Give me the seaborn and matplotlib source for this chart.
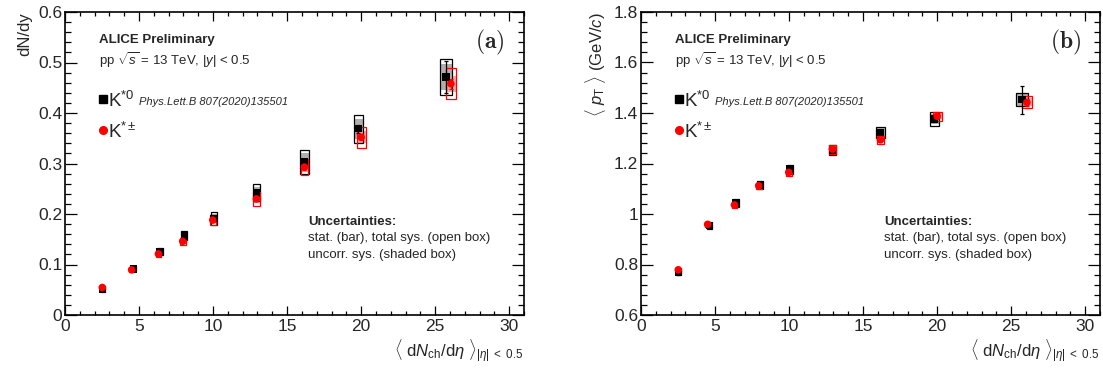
import numpy as np
import pandas as pd
import seaborn as sns
import matplotlib
matplotlib.use("Agg")
import matplotlib.pyplot as plt
from matplotlib.patches import Rectangle
from matplotlib.ticker import MultipleLocator
from matplotlib.lines import Line2D

# ---------------- data ----------------
# multiplicity classes, <dNch/deta> at |eta| < 0.5
mult_k0 = [2.52, 4.62, 6.42, 8.06, 10.07, 12.93, 16.17, 19.82, 25.74]
mult_kch = [2.52, 4.50, 6.31, 7.95, 9.98, 12.93, 16.17, 20.00, 26.06]
# half-width of the multiplicity uncertainty
mult_err_k0 = [0.15, 0.17, 0.18, 0.20, 0.20, 0.22, 0.28, 0.33, 0.40]
mult_err_kch = [0.15, 0.17, 0.18, 0.20, 0.20, 0.22, 0.26, 0.30, 0.36]

# dN/dy
dndy_k0 = [0.0505, 0.0915, 0.125, 0.157, 0.191, 0.242, 0.303, 0.369, 0.471]
dndy_k0_stat = [0.001, 0.002, 0.002, 0.003, 0.003, 0.004, 0.006, 0.008, 0.031]
dndy_k0_sys = [0.004, 0.005, 0.007, 0.009, 0.012, 0.017, 0.024, 0.028, 0.036]
dndy_k0_unc = [0.003, 0.004, 0.005, 0.007, 0.009, 0.012, 0.017, 0.020, 0.026]

dndy_kch = [0.0545, 0.0895, 0.121, 0.146, 0.188, 0.230, 0.293, 0.352, 0.458]
dndy_kch_stat = [0.001, 0.002, 0.002, 0.003, 0.003, 0.004, 0.005, 0.006, 0.010]
dndy_kch_sys = [0.003, 0.004, 0.006, 0.007, 0.010, 0.014, 0.015, 0.021, 0.031]
dndy_kch_unc = [0.002, 0.003, 0.004, 0.005, 0.006, 0.008, 0.010, 0.012, 0.016]

# <pT> (GeV/c)
mpt_k0 = [0.769, 0.954, 1.044, 1.115, 1.178, 1.252, 1.323, 1.376, 1.453]
mpt_k0_stat = [0.010, 0.010, 0.010, 0.010, 0.010, 0.010, 0.010, 0.012, 0.055]
mpt_k0_sys = [0.010, 0.014, 0.015, 0.016, 0.018, 0.020, 0.022, 0.026, 0.026]
mpt_k0_unc = [0.008, 0.010, 0.011, 0.012, 0.013, 0.015, 0.016, 0.020, 0.024]

mpt_kch = [0.779, 0.959, 1.036, 1.112, 1.165, 1.257, 1.294, 1.387, 1.442]
mpt_kch_stat = [0.004, 0.005, 0.005, 0.006, 0.006, 0.007, 0.008, 0.010, 0.015]
mpt_kch_sys = [0.008, 0.010, 0.011, 0.012, 0.014, 0.018, 0.015, 0.018, 0.024]
mpt_kch_unc = [0.005, 0.006, 0.007, 0.008, 0.009, 0.011, 0.010, 0.012, 0.016]

species = ["K*0", "K*±"]
x_ticks = [0, 5, 10, 15, 20, 25, 30]

# ---------------- style ----------------
sns.set_theme(style="ticks")
plt.rcParams["font.family"] = ["Liberation Sans", "DejaVu Sans"]
plt.rcParams["mathtext.fontset"] = "custom"
plt.rcParams["mathtext.rm"] = "Liberation Sans"
plt.rcParams["mathtext.it"] = "Liberation Sans:italic"
plt.rcParams["mathtext.bf"] = "Liberation Sans:bold"

fig = plt.figure(figsize=(11.03, 3.72), dpi=100)
ax_a = fig.add_axes([65 / 1103, 57 / 372, 459 / 1103, 303 / 372])
ax_b = fig.add_axes([641 / 1103, 57 / 372, 459 / 1103, 303 / 372])

colors = {"K*0": "black", "K*±": "red"}
shade = {"K*0": "#a6a6a6", "K*±": "#ff9c9c"}
markers = {"K*0": "s", "K*±": "o"}


def draw_series(ax, x, xerr, y, stat, sys_tot, sys_unc, name):
    col = colors[name]
    for xi, wi, yi, st, su in zip(x, xerr, y, sys_tot, sys_unc):
        ax.add_patch(Rectangle((xi - wi, yi - su), 2 * wi, 2 * su,
                               facecolor=shade[name], edgecolor="none",
                               zorder=2, alpha=0.9))
        ax.add_patch(Rectangle((xi - wi, yi - st), 2 * wi, 2 * st,
                               facecolor="none", edgecolor=col,
                               linewidth=0.9, zorder=3))
    ax.errorbar(x, y, yerr=stat, fmt="none", ecolor=col, elinewidth=0.9,
                capsize=1.5, capthick=0.9, zorder=4)


def build_panel(ax, y_k0, s_k0, t_k0, u_k0, y_kch, s_kch, t_kch, u_kch):
    draw_series(ax, mult_k0, mult_err_k0, y_k0, s_k0, t_k0, u_k0, "K*0")
    draw_series(ax, mult_kch, mult_err_kch, y_kch, s_kch, t_kch, u_kch, "K*±")
    df = pd.DataFrame({
        "mult": mult_k0 + mult_kch,
        "val": list(y_k0) + list(y_kch),
        "species": [species[0]] * len(mult_k0) + [species[1]] * len(mult_kch),
    })
    sns.scatterplot(data=df, x="mult", y="val", hue="species", style="species",
                    palette=colors, markers=markers, s=30, linewidth=0,
                    legend=False, ax=ax, zorder=5)


build_panel(ax_a, dndy_k0, dndy_k0_stat, dndy_k0_sys, dndy_k0_unc,
            dndy_kch, dndy_kch_stat, dndy_kch_sys, dndy_kch_unc)
build_panel(ax_b, mpt_k0, mpt_k0_stat, mpt_k0_sys, mpt_k0_unc,
            mpt_kch, mpt_kch_stat, mpt_kch_sys, mpt_kch_unc)

ax_a.set_ylim(0, 0.6)
ax_a.yaxis.set_major_locator(MultipleLocator(0.1))
ax_a.yaxis.set_minor_locator(MultipleLocator(0.02))
ax_a.set_yticks(np.arange(0, 0.61, 0.1))
ax_a.set_yticklabels(["0", "0.1", "0.2", "0.3", "0.4", "0.5", "0.6"])
ax_a.set_ylabel("dN/dy", loc="top", fontsize=12, labelpad=4)

ax_b.set_ylim(0.6, 1.8)
ax_b.yaxis.set_minor_locator(MultipleLocator(0.04))
ax_b.set_yticks(np.arange(0.6, 1.81, 0.2))
ax_b.set_yticklabels(["0.6", "0.8", "1", "1.2", "1.4", "1.6", "1.8"])
ax_b.set_ylabel(r"$\langle\ p_{\mathrm{T}}\ \rangle$ (GeV/$c$)", loc="top",
                fontsize=12, labelpad=4)

for ax, tag in ((ax_a, "a"), (ax_b, "b")):
    ax.set_xlim(0, 31)
    ax.set_xticks(x_ticks)
    ax.set_xticklabels([str(t) for t in x_ticks])
    ax.xaxis.set_minor_locator(MultipleLocator(1))
    ax.set_xlabel(r"$\langle\ \mathrm{d}N_{\mathrm{ch}}/\mathrm{d}\eta\ \rangle_{|\eta|\ <\ 0.5}$",
                  loc="right", fontsize=12, labelpad=2)
    ax.tick_params(axis="both", which="both", direction="in", top=True,
                   right=True, labelsize=12.5, color="black", width=0.9)
    ax.tick_params(axis="y", which="major", length=8.5, pad=2)
    ax.tick_params(axis="y", which="minor", length=4.3)
    ax.tick_params(axis="x", which="major", length=6.5, pad=3)
    ax.tick_params(axis="x", which="minor", length=3)
    for sp in ax.spines.values():
        sp.set_linewidth(1.2)
        sp.set_color("black")
        sp.set_visible(True)

    ax.text(0.074, 0.908, "ALICE Preliminary", transform=ax.transAxes,
            fontsize=9.5, fontweight="bold", va="center", ha="left")
    ax.text(0.074, 0.842, r"pp $\sqrt{s}$ = 13 TeV, |$y$| < 0.5",
            transform=ax.transAxes, fontsize=9.5, va="center", ha="left")

    ax.add_line(Line2D([0.083], [0.713], marker="s", color="black",
                       markersize=5.5, linestyle="none",
                       transform=ax.transAxes))
    ax.text(0.093, 0.705, r"K$^{*0}$", transform=ax.transAxes,
            fontsize=13.5, va="center", ha="left")
    ax.text(0.161, 0.703, "Phys.Lett.B 807(2020)135501",
            transform=ax.transAxes, fontsize=8, style="italic",
            va="center", ha="left")
    ax.add_line(Line2D([0.083], [0.611], marker="o", color="red",
                       markersize=5.5, linestyle="none",
                       transform=ax.transAxes))
    ax.text(0.093, 0.605, r"K$^{*\pm}$", transform=ax.transAxes,
            fontsize=13.5, va="center", ha="left")

    ax.text(0.529, 0.307, "Uncertainties:", transform=ax.transAxes,
            fontsize=9.5, fontweight="bold", va="center", ha="left")
    ax.text(0.529, 0.254, "stat. (bar), total sys. (open box)",
            transform=ax.transAxes, fontsize=9.5, va="center", ha="left")
    ax.text(0.529, 0.198, "uncorr. sys. (shaded box)",
            transform=ax.transAxes, fontsize=9.5, va="center", ha="left")

    ax.text(0.926, 0.898, r"$\mathbf{(" + tag + r")}$", transform=ax.transAxes,
            fontsize=17, va="center", ha="center", math_fontfamily="cm")

fig.savefig("out.png", dpi=100)
